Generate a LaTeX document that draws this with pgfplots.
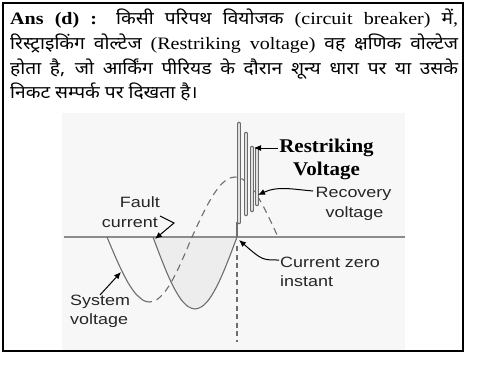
\documentclass[border=0pt]{standalone}
\usepackage{fontspec}
\usepackage{pgfplots}
\pgfplotsset{compat=1.18}
\usetikzlibrary{arrows.meta}
\setmainfont{Liberation Serif}[FakeStretch=1.15]
\newfontfamily\hi{Noto Sans}[Script=Devanagari, FakeStretch=1.1]
\newfontfamily\lsans{Liberation Sans}[FakeStretch=1.2]
\newfontfamily\tb{Liberation Serif}[FakeStretch=1.08]
\definecolor{curve}{HTML}{6E6E6E}
\definecolor{axl}{HTML}{8C8C8C}
\begin{document}
\begin{tikzpicture}
\begin{axis}[scale only axis, width=488bp, height=378bp,
  xmin=0, xmax=488, ymin=0, ymax=378, y dir=reverse,
  hide axis, clip=false]
% light background of the figure
\fill[black!3] (axis cs:62,113) rectangle (axis cs:405,350);
% fault current (shaded)
\addplot[fill=black!7, draw=none, smooth] coordinates {
 (153,237) (160,255.6) (167,273) (174,287.9) (181,299.4) (188,306.5) (195,309)
 (202,306.5) (209,299.4) (216,287.9) (223,273) (230,255.6) (237,237)};
% zero axis
\addplot[axl, line width=1.4bp] coordinates {(64,237) (405,237)};
\addplot[curve, line width=1.1bp, smooth] coordinates {
 (153,237) (160,255.6) (167,273) (174,287.9) (181,299.4) (188,306.5) (195,309)
 (202,306.5) (209,299.4) (216,287.9) (223,273) (230,255.6) (237,237)};
% system voltage solid part
\addplot[curve, line width=1.1bp, smooth] coordinates {
 (107,237) (114.08,253.8) (121.17,269.5) (128.25,283.0) (135.33,293.3) (142.42,299.8) (145,301.1)};
% system / recovery voltage dashed part
\addplot[curve, line width=1.1bp, smooth, dash pattern=on 7bp off 5bp] coordinates {
 (145,301.1) (149.5,302) (156.58,299.8) (163.67,293.3) (170.75,283.0) (177.83,269.5)
 (184.92,253.8) (192,237) (199.17,221.5) (206.33,207) (213.5,194.6) (220.67,185.0)
 (227.83,179.0) (235,177) (242.17,179) (249.33,185) (256.5,194.6) (263.67,207)
 (270.83,221.5) (278,237)};
% current zero vertical dashed
\addplot[curve, line width=1.1bp, dash pattern=on 5bp off 3.5bp] coordinates {(237,246) (237,342)};
\addplot[curve, line width=1.1bp] coordinates {(237,237) (237,222)};
% restriking oscillation bars
\addplot[black!58, line width=4.6bp, line cap=round] coordinates {(239,124) (239,222)};
\addplot[black!12, line width=2.4bp, line cap=round] coordinates {(239,124) (239,222)};
\addplot[black!58, line width=4.6bp, line cap=round] coordinates {(246,134) (246,214)};
\addplot[black!12, line width=2.4bp, line cap=round] coordinates {(246,134) (246,214)};
\addplot[black!58, line width=4.6bp, line cap=round] coordinates {(252,148) (252,210)};
\addplot[black!12, line width=2.4bp, line cap=round] coordinates {(252,148) (252,210)};
\addplot[black!58, line width=4.6bp, line cap=round] coordinates {(257,149) (257,204)};
\addplot[black!12, line width=2.4bp, line cap=round] coordinates {(257,149) (257,204)};
% arrows
\draw[black, line width=1bp, -{Latex[length=7bp,width=6bp]}] (axis cs:278,148) -- (axis cs:254,148);
\draw[black, line width=1bp, -{Latex[length=7bp,width=6bp]}] (axis cs:313,191) to[out=175,in=25] (axis cs:258,195);
\draw[black, line width=1bp, -{Latex[length=7bp,width=6bp]}] (axis cs:160,216) -- (axis cs:174,223) -- (axis cs:155,239);
\draw[black, line width=1bp, -{Latex[length=7bp,width=6bp]}] (axis cs:279,260) .. controls (axis cs:262,260) .. (axis cs:239,240);
\draw[black, line width=1bp, -{Latex[length=7bp,width=6bp]}] (axis cs:100,295) -- (axis cs:121,272);
% labels
\node[font=\tb\bfseries\fontsize{19.5}{22}\selectfont, anchor=base, inner sep=0] at (axis cs:326.5,152) {Restriking};
\node[font=\tb\bfseries\fontsize{19.5}{22}\selectfont, anchor=base, inner sep=0] at (axis cs:326.5,175) {Voltage};
\node[font=\lsans\fontsize{15}{18}\selectfont, anchor=base, inner sep=0, text=black!85] at (axis cs:353.5,197) {Recovery};
\node[font=\lsans\fontsize{15}{18}\selectfont, anchor=base, inner sep=0, text=black!85] at (axis cs:354.5,217) {voltage};
\node[font=\lsans\fontsize{15}{18}\selectfont, anchor=base east, inner sep=0, text=black!85] at (axis cs:160,207) {Fault};
\node[font=\lsans\fontsize{15}{18}\selectfont, anchor=base east, inner sep=0, text=black!85] at (axis cs:158,227) {current};
\node[font=\lsans\fontsize{15}{18}\selectfont, anchor=base west, inner sep=0, text=black!85] at (axis cs:280,267) {Current zero};
\node[font=\lsans\fontsize{15}{18}\selectfont, anchor=base west, inner sep=0, text=black!85] at (axis cs:280,286) {instant};
\node[font=\lsans\fontsize{15}{18}\selectfont, anchor=base west, inner sep=0, text=black!85] at (axis cs:70,305) {System};
\node[font=\lsans\fontsize{15}{18}\selectfont, anchor=base west, inner sep=0, text=black!85] at (axis cs:70,324) {voltage};
% answer text
\node[anchor=base west, inner sep=0, text width=448bp, align=justify,
  font=\fontsize{17.5}{24.7}\selectfont] at (axis cs:10,25) {%
\textbf{Ans (d) :} {\hi किसी परिपथ वियोजक} (circuit breaker) {\hi में},\linebreak
{\hi रिस्ट्राइकिंग वोल्टेज} (Restriking voltage) {\hi वह क्षणिक वोल्टेज}\linebreak
{\hi होता है, जो आर्किंग पीरियड के दौरान शून्य धारा पर या उसके}\linebreak
{\hi निकट सम्पर्क पर दिखता है।}};
% frame
\draw[black, line width=1.5bp] (axis cs:3,3) rectangle (axis cs:463,351);
\end{axis}
\pgfresetboundingbox
\path (0,0) rectangle (488bp,378bp);
\end{tikzpicture}
\end{document}
